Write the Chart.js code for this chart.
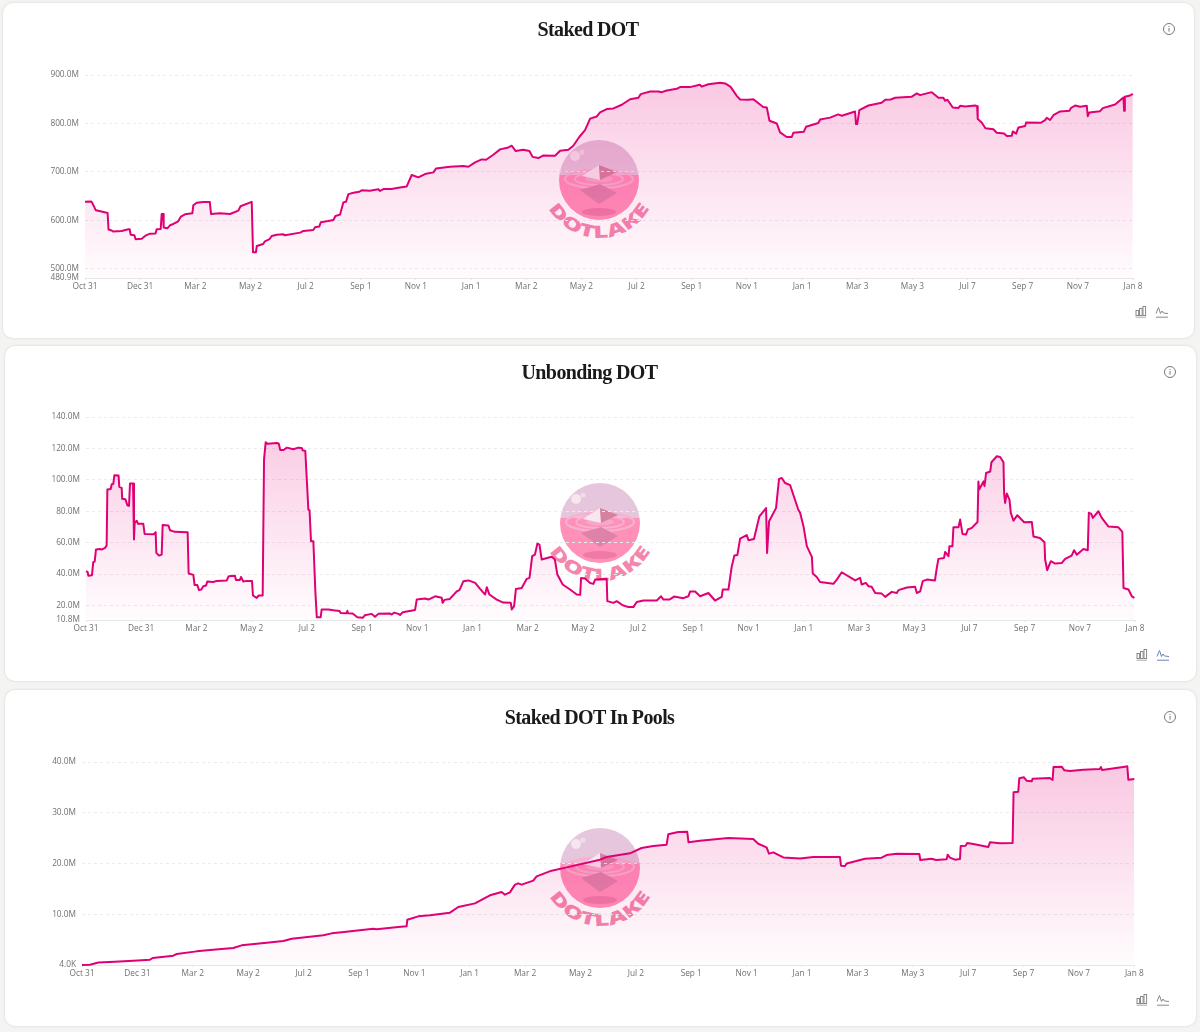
<!DOCTYPE html>
<html><head><meta charset="utf-8">
<script src="https://cdn.jsdelivr.net/npm/chart.js@4"></script>
<style>
html,body{margin:0;padding:0;background:#f4f4f2;width:1200px;height:1032px;overflow:hidden}
.card{position:absolute;background:#fff;border-radius:10px;box-shadow:0 0 3px rgba(0,0,0,.13)}
canvas{position:absolute;left:0}
svg{position:absolute;overflow:visible}
h2{position:absolute;margin:0;text-align:center;font:700 20px/26px "Liberation Serif",serif;letter-spacing:-.62px;color:#1a1a1a;white-space:nowrap;transform:translateX(-50%)}
</style></head><body>
<script>
// x positions are days since the first "Oct 31"; values are in millions of DOT
const xTickLabels=["Oct 31","Dec 31","Mar 2","May 2","Jul 2","Sep 1","Nov 1","Jan 1","Mar 2","May 2","Jul 2","Sep 1","Nov 1","Jan 1","Mar 3","May 3","Jul 7","Sep 7","Nov 7","Jan 8"];
const daysPerTick=61;

const stakedTicks=[480.9,500,600,700,800,900];
const stakedTickLabels=["480.9M","500.0M","600.0M","700.0M","800.0M","900.0M"];
const stakedDot=[[0,638.5],[7,639],[8,636],[12,620.6],[17,618.6],[25,615],[26,581],[29.5,579],[31,577],[40.5,578],[48,581.5],[49.4,581.5],[50.5,570],[54.6,569],[56,561],[62.7,562],[67.5,569],[72,572.5],[78,573],[79.3,581.5],[83.7,582],[84.8,613],[86.3,613],[87,585],[91,583.5],[94,589.7],[97.7,592.4],[103,598],[106,607.6],[110.6,612.4],[118.7,614.4],[119.8,631],[123.5,636.4],[131,638],[138,638],[139.4,613],[149.3,614.4],[160.4,613],[169.6,620],[172,629],[184.4,638],[185.8,534],[189,534],[190,547],[197,551],[199,556.7],[204,561],[206.5,567.7],[212,570],[219.5,571],[221,569],[238,574.6],[241.5,578],[252.5,580],[254.4,585.6],[259,587],[260.8,596],[269,598.6],[274.7,600.7],[277,609],[282,611.7],[285.7,637],[288.7,638.5],[291.3,654],[297,657],[303.4,659],[306,662],[315,661],[324.5,664],[326.3,660.5],[330,664.6],[339,664.6],[346.6,667.4],[355.8,670],[361.3,693.5],[368.7,688.7],[376,695.5],[385.3,699],[388.2,707],[403.7,710.6],[418.5,712],[424,710.6],[431.4,719.6],[438.7,725.8],[443.5,725],[451.6,735.4],[459,746.4],[468.2,750.5],[472,754],[476.3,743],[484.8,745.7],[491.5,743],[495,731],[501.4,728.5],[507,734],[519.8,733.3],[525.4,743.6],[534.6,745.7],[540,754],[546.8,772.5],[553,786],[558.6,810],[566,814.4],[569.6,822.7],[577,829.6],[584.4,831],[593.6,838.5],[602.8,850],[612,853],[614.6,860.5],[625,866],[634,866],[637.8,864.6],[643.4,868],[654.4,871.5],[658,875],[669,875],[680,879.7],[682,876],[689.4,881],[702.4,884],[708,882.6],[714,875.6],[720.8,857],[724.5,849.5],[733.7,848.8],[739.2,850],[750,834],[754,833],[757,805.5],[765,800],[768.7,781.4],[776,772],[781.6,772],[783.5,781],[795,783],[797.4,793],[811,801],[813,808],[824,812],[833,818.6],[837,816],[851.6,824.7],[852.7,798.6],[854,798.6],[856.4,827.5],[866.4,837],[881,842.6],[885,849],[891,849.5],[896,853],[914,855],[920,862],[923.5,858.4],[936.4,864.6],[943.8,853],[949.3,853],[951.2,846.7],[953.8,849],[959.7,833],[966,832],[967.8,836.4],[973.3,835],[984.4,837],[986.6,835.7],[987.3,809],[991.7,802],[995.8,790],[1004.6,788],[1008.3,780.7],[1016.4,779],[1019.4,773.9],[1025,774.6],[1026,783.5],[1029.7,779],[1032.3,791.8],[1039.7,794.5],[1040.8,802],[1057,801.4],[1061.8,807],[1063.6,811.7],[1067.3,807],[1071,817],[1078.4,824.7],[1088.7,826],[1090.2,831.6],[1095,837],[1100.5,834.4],[1107.9,836.4],[1109,815],[1110.8,822.7],[1122.6,825.4],[1125.6,831.6],[1139.2,839],[1148.4,853.6],[1149.2,826],[1150,855],[1155.8,857.7],[1158.8,861]];

const unbondingTicks=[10.8,20,40,60,80,100,120,140];
const unbondingTickLabels=["10.8M","20.0M","40.0M","60.0M","80.0M","100.0M","120.0M","140.0M"];
const unbondingDot=[[0,41.8],[1.8,41.4],[2.6,39],[6.6,39.3],[8,47.6],[9.6,48],[11,55.6],[15.5,56],[17.3,55.6],[21,56.7],[22.8,58.2],[23.6,93.8],[27.3,94.2],[28.4,97.2],[30.2,97.4],[31.3,102.9],[36,102.7],[36.8,95.5],[39.4,94.9],[40,87.9],[43.5,87.7],[45.7,83.8],[47.5,83.4],[48.6,97.6],[52,97.6],[53,62],[53.8,72.6],[56,74],[57.5,72],[63.3,72],[64.8,65.6],[75,65.4],[77,66.7],[77.7,53.5],[80.7,51.8],[83.6,52.4],[84.7,71.3],[91,71],[92.8,67.9],[98.3,66.9],[112.3,66.7],[113.4,40.4],[118.6,39.5],[120,33],[123,33],[124.9,29.8],[127.4,30.2],[129.6,32.3],[132.6,32.7],[134,35.3],[140.7,35],[144.4,35.7],[155.4,35.9],[157.6,38.7],[164.6,38.9],[165.7,36.3],[170,36.3],[171.3,38.2],[173.8,35.3],[177.5,35.7],[183.4,35.7],[184.5,26.4],[188.6,24.9],[190.8,26.4],[195.2,26.4],[196.7,112.9],[198.5,123.9],[200.7,122.9],[211,123.5],[213,123],[214.6,119],[218.3,119],[222,120.5],[229,119.5],[234.6,120.5],[238.3,120.3],[239.4,118.8],[242.3,118.4],[245.7,81],[247,80.7],[248.6,60.9],[251.2,60.9],[253.4,29],[255,12.6],[259.3,12.6],[260.4,17.5],[267.8,17.5],[273.3,17],[280,16.6],[281.4,15.3],[288,15.1],[288.8,16.6],[289.5,15.1],[294.6,14.9],[299.8,12.6],[305.7,12.2],[308,13.8],[315.6,14.7],[319.3,12.8],[323,14.7],[336,14.9],[337.7,14.3],[340.7,15.5],[345,14.7],[347,14],[350,15.8],[363.6,17.2],[365.4,23.8],[374.6,24.5],[378.3,23.8],[385.7,25.9],[393,24.9],[394,21.7],[396,23.6],[402,24.2],[409.6,29],[412.6,29.8],[417,35.5],[422.5,36],[430,34.4],[435.4,30.6],[441,27],[442.8,31.7],[445.7,27],[453.8,23.8],[461,21.9],[469.3,21.7],[470.4,17.5],[473,19.6],[475,30.6],[481.4,31.2],[487,37],[490,37.6],[493,51.4],[496,52.4],[498.7,59.4],[501,58.8],[503.5,49.3],[514.6,51],[518,49.3],[520.8,39.7],[526.7,33.4],[534.8,30.2],[542.2,27],[546,26.8],[547,37.6],[551.4,37.2],[557,34.4],[560.6,33.8],[562.5,36.5],[575.3,37],[576,22.8],[582.7,21.7],[586.4,22.8],[593,20.2],[599.3,19],[604.8,19],[608.5,22.3],[615.9,23.2],[630.6,23.2],[635.4,25.9],[638,23.8],[644.6,23.8],[649.7,25.7],[660,24.7],[665.6,25.9],[667.4,28.9],[673,28.9],[678.5,25.9],[687.7,28],[695,23.2],[702.4,25.5],[703.5,30.2],[709.8,30.2],[713.5,45],[716.4,51.8],[719.7,52.2],[722.7,62.6],[730,64.8],[732,61.6],[738,62.4],[744,76.8],[751.4,82],[752.5,53.5],[754.7,73.7],[762.4,82],[765.7,100.6],[768.7,101.2],[772.4,98],[778,96.6],[787,81],[789,79],[792.7,70.5],[796.4,57.8],[802,51],[803,40.4],[807.4,38.2],[811,35],[825.8,33.8],[829.5,36.5],[835,41.2],[849.8,36],[855.3,37.6],[857,33.4],[861.6,34.4],[864.5,32.3],[868,31.9],[872,28],[879.2,27.6],[883,25.5],[890.3,28.7],[895.8,28],[897.7,29.8],[906.9,31.5],[916,32],[918,28],[921.6,29],[924.5,35.5],[929,36.5],[938,36],[940,44],[941.8,49.7],[948,50.3],[949.2,54.1],[952.9,51.4],[954,57.8],[957.3,57.8],[958.4,69.8],[964,69.8],[965.8,74.7],[968.4,65.6],[972.4,65.2],[974.3,68.4],[978.7,69.4],[985,73.2],[986,99],[986.8,93.8],[991.6,99],[992.7,96],[994.5,104.4],[999,105.3],[1000.4,111.2],[1006.3,115],[1010,114.6],[1013.7,111.2],[1014.4,91.3],[1015.5,85.3],[1017.3,91.3],[1020.3,87.4],[1021.8,79],[1024.7,74],[1029,77.5],[1036.5,73],[1045,73.2],[1046.8,64],[1054,63],[1059,60.3],[1059.7,49.3],[1062,42.5],[1066,48.2],[1070.7,46.7],[1078,47],[1081.8,49.7],[1089,51.8],[1091.7,55.2],[1094.7,52.4],[1102,56],[1106.8,55.2],[1108,79],[1110.5,78.5],[1112.4,75.8],[1118.6,80],[1122.3,75.8],[1129.7,70.3],[1140.7,69.8],[1145,66.9],[1146.3,31.2],[1151.8,30.2],[1155.5,25.9],[1158.4,24.9]];

const poolTicks=[0.004,10,20,30,40];
const poolTickLabels=["4.0K","10.0M","20.0M","30.0M","40.0M"];
const poolDot=[[0,0.004],[8.8,0.07],[18,0.5],[36,0.66],[56.5,0.85],[75,1.05],[77.8,1.38],[100.6,1.84],[104.3,2.17],[126.3,2.69],[141,2.96],[166.7,3.35],[175.8,3.88],[203.4,4.4],[221.7,4.73],[231,5.19],[251,5.58],[265.8,5.85],[275,6.24],[286,6.44],[320.8,7.16],[324.5,7.03],[348.4,7.49],[357.5,7.62],[358.3,8.93],[370.4,9.59],[383.2,9.79],[405.3,10.31],[414.4,11.43],[432.8,12.15],[449.3,13.73],[462.2,14.38],[465.8,13.86],[471.3,14.32],[476.9,15.83],[480.5,16.09],[484.2,15.83],[497,16.62],[500.7,17.47],[517.2,18.59],[533.8,19.24],[570.5,20.76],[577.8,21.28],[603.5,22],[616.3,23.05],[629.2,23.45],[643.9,23.71],[645.7,25.75],[656.7,26.2],[666.6,26.27],[668,24.17],[680.6,24.5],[711.8,25.02],[739.3,24.83],[744.8,23.9],[754,23.18],[756.6,21.94],[761.4,22.2],[772.4,21.2],[790.8,21],[805.5,21.28],[834.8,21.28],[836,19.57],[840.4,19.5],[842.2,20],[862.4,20.95],[880.7,21.15],[886.2,21.67],[897.3,21.94],[922.2,21.87],[923.3,20.69],[935.8,20.95],[940.6,20.69],[952.3,20.82],[953.4,21.74],[956,21.15],[961.5,20.76],[967,20.89],[967.8,23.45],[973.2,23.51],[975,24.04],[981.7,23.84],[998.2,23.25],[1000,24.17],[1011,23.97],[1025,24.04],[1026,34.02],[1031.2,34.15],[1032.3,36.78],[1037.5,36.98],[1040.4,36.32],[1046,36.19],[1047,36.72],[1066,36.85],[1069,36.45],[1070,39.01],[1079,39.08],[1082,38.36],[1088,38.23],[1102.8,38.49],[1121,38.62],[1122.3,39],[1123.4,38.42],[1148.7,39.08],[1151.3,39.15],[1152.4,36.52],[1159,36.65]];

const panels=[
 {title:"Staked DOT",series:stakedDot,ticks:stakedTicks,tickLabels:stakedTickLabels,
  card:[3,3,1191,335],plot:[85,74.5,1133,277.3],titleAt:[588,16],logo:[598.5,179.5],info:[1169,29],tools:[1141,312],lineIconColor:"#888"},
 {title:"Unbonding DOT",series:unbondingDot,ticks:unbondingTicks,tickLabels:unbondingTickLabels,
  card:[5,346,1191,335],plot:[86,417.3,1135,620.3],titleAt:[589.5,359],logo:[600,522.5],info:[1170,372],tools:[1142,655],lineIconColor:"#6b80b5"},
 {title:"Staked DOT In Pools",series:poolDot,ticks:poolTicks,tickLabels:poolTickLabels,
  card:[5,690,1191,336],plot:[82,762.3,1134.3,965.3],titleAt:[589.5,704],logo:[600,867.5],info:[1170,717],tools:[1142,1000],lineIconColor:"#888"}
];
const PINK="#df0076";
const NS=document.body;
function addHTML(html){NS.insertAdjacentHTML('beforeend',html);}
function logoSVG(cx,cy,id){
 return `<svg width="160" height="130" viewBox="-80 -50 160 130" style="left:${cx-80}px;top:${cy-50}px">
 <defs><clipPath id="c${id}"><circle r="40"/></clipPath>
 <path id="a${id}" d="M -49 30.6 A 57.8 57.8 0 0 0 49 30.6" fill="none"/></defs>
 <g clip-path="url(#c${id})">
  <rect x="-40" y="-40" width="80" height="36" fill="#e5c6dc"/>
  <rect x="-40" y="-5" width="80" height="45" fill="#ff90b8"/>
  <ellipse cx="0" cy="-1" rx="34" ry="9" fill="none" stroke="#f7b0cf" stroke-width="2.4"/>
  <ellipse cx="0" cy="-1" rx="24" ry="6" fill="none" stroke="#f7b0cf" stroke-width="2"/>
  <ellipse cx="0" cy="-1" rx="14" ry="3.5" fill="#f5a8cb"/>
  <polygon points="-19,10 1,4 18,13 0,24" fill="#df82a9"/>
  <ellipse cx="0" cy="32" rx="17" ry="4" fill="#ee7aa5"/>
 </g>
 <polygon points="0,-15 -17,-4 1,0" fill="#f9e6ef"/>
 <polygon points="0,-15 18,-8 1,0" fill="#d5829f"/>
 <circle cx="-24" cy="-24" r="5" fill="#f5e6f0"/><circle cx="-17" cy="-28" r="2.6" fill="#f0dcea"/>
 <text font-family="'Open Sans',sans-serif" font-weight="800" font-size="17" fill="#f585ad"><textPath href="#a${id}" startOffset="50%" text-anchor="middle" textLength="122" lengthAdjust="spacingAndGlyphs">DOTLAKE</textPath></text>
 </svg>`;
}
function iconsSVG(p){
 const [ix,iy]=p.info,[tx,ty]=p.tools;
 return `<svg width="14" height="14" viewBox="-7 -7 14 14" style="left:${ix-7}px;top:${iy-7}px"><circle r="5.5" fill="none" stroke="#777" stroke-width="1"/><rect x="-.5" y="-1" width="1" height="3.6" fill="#777"/><rect x="-.5" y="-3" width="1" height="1" fill="#777"/></svg>
 <svg width="14" height="14" viewBox="-7 -7 14 14" style="left:${tx-7}px;top:${ty-7}px"><g fill="none" stroke="#888" stroke-width="1"><rect x="-5" y="-1.5" width="2.6" height="5"/><rect x="-1.5" y="-3.5" width="2.6" height="7"/><rect x="2" y="-5.5" width="2.6" height="9"/><path d="M-5.5 5.2H5" stroke="#aaa"/></g></svg>
 <svg width="14" height="14" viewBox="-7 -7 14 14" style="left:${tx+21-7}px;top:${ty-7}px"><g fill="none" stroke="${p.lineIconColor}" stroke-width="1"><path d="M-6 1.5L-3.5 -4.5L-1.5 1.5L0 -1L1.5 1L6 1.5"/><path d="M-6 5.2H6"/></g></svg>`;
}
panels.forEach((p,i)=>{
 const [cl,ct,cw,ch]=p.card,[pl,pt,pr,pb]=p.plot;
 addHTML(`<div class="card" style="left:${cl}px;top:${ct}px;width:${cw}px;height:${ch}px"></div>`);
 addHTML(logoSVG(p.logo[0],p.logo[1],i));
 const PADT=60,XH=24,top=pt-PADT,h=pb-pt+PADT+XH;
 const cv=document.createElement('canvas');
 cv.width=1200;cv.height=Math.round(h);
 cv.style.cssText=`top:${top}px;width:1200px;height:${Math.round(h)}px`;
 NS.appendChild(cv);
 addHTML(`<h2 style="left:${p.titleAt[0]}px;top:${p.titleAt[1]}px">${p.title}</h2>`);
 addHTML(iconsSVG(p));
 new Chart(cv,{
  type:'line',
  data:{datasets:[{
   data:p.series.map(([x,y])=>({x,y})),
   borderColor:PINK,borderWidth:2,pointRadius:0,tension:0,borderJoinStyle:'round',clip:4,
   fill:'start',
   backgroundColor(ctx){
    const a=ctx.chart.chartArea; if(!a)return 'rgba(230,0,122,.1)';
    const g=ctx.chart.ctx.createLinearGradient(0,a.top,0,a.bottom);
    g.addColorStop(0,'rgba(230,0,122,.22)');g.addColorStop(1,'rgba(230,0,122,.01)');
    return g;
   }
  }]},
  options:{
   responsive:false,animation:false,devicePixelRatio:1,
   layout:{autoPadding:false,padding:{left:0,top:PADT,right:1200-pr,bottom:0}},
   plugins:{legend:{display:false},tooltip:{enabled:false},title:{display:false}},
   scales:{
    x:{type:'linear',min:0,max:(xTickLabels.length-1)*daysPerTick,
     afterBuildTicks(a){a.ticks=xTickLabels.map((_,k)=>({value:k*daysPerTick}));},
     afterFit(a){a.height=h-PADT-(pb-pt);},
     border:{display:true,color:'#e6e6e6'},
     grid:{drawOnChartArea:false,drawTicks:true,tickLength:2,tickColor:'#e6e6e6'},
     ticks:{autoSkip:false,maxRotation:0,padding:2,color:'#707070',font:{family:'"Open Sans",sans-serif',size:8.3},
      callback:(v,k)=>xTickLabels[k]}},
    y:{type:'linear',min:p.ticks[0],max:p.ticks[p.ticks.length-1],
     afterBuildTicks(a){a.ticks=p.ticks.map(v=>({value:v}));},
     afterFit(a){a.width=pl;},
     border:{display:false,dash:[3,3]},
     grid:{drawTicks:false,color:c=>c.index===0?'rgba(0,0,0,0)':'#ebebeb',lineWidth:1},
     ticks:{autoSkip:false,padding:6,color:'#707070',font:{family:'"Open Sans",sans-serif',size:8.3},
      callback:(v,k)=>p.tickLabels[k]}}
   }
  }
 });
});
</script>
</body></html>
